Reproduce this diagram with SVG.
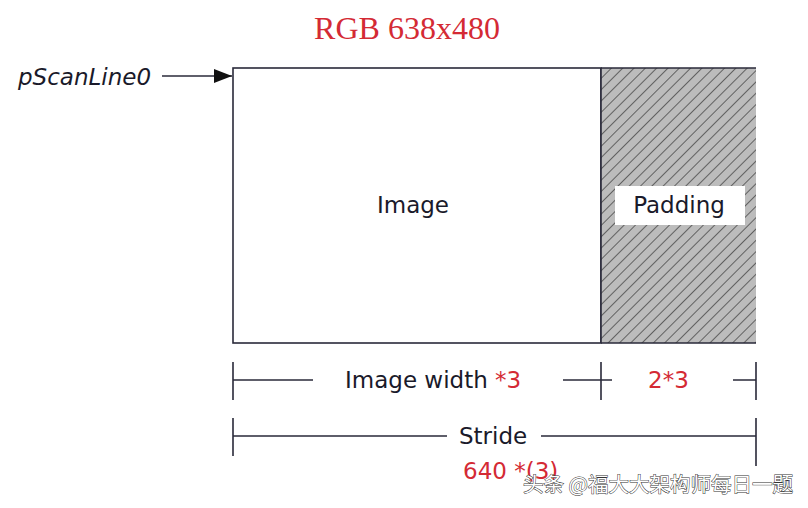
<svg xmlns="http://www.w3.org/2000/svg" width="808" height="508" viewBox="0 0 808 508">
<style>
.t{font-family:"DejaVu Sans",Verdana,sans-serif;font-size:23px;fill:#1a1a2a}
.r{fill:#d42a34}
.ln{stroke:#2a2a3a;stroke-width:1.6;fill:none}
</style>
<defs>
<pattern id="hatch" patternUnits="userSpaceOnUse" width="8" height="8" patternTransform="rotate(45)">
<rect width="8" height="8" fill="#bcbcbc"/>
<line x1="0" y1="0" x2="0" y2="8" stroke="#4a4a4a" stroke-width="1.6"/>
</pattern>
<marker id="ah" markerWidth="18" markerHeight="14" refX="18" refY="7" orient="auto" markerUnits="userSpaceOnUse">
<path d="M0,0 L18,7 L0,14 Z" fill="#111"/>
</marker>
</defs>
<rect width="808" height="508" fill="#fff"/>
<text x="407" y="39" text-anchor="middle" font-family="Liberation Serif,serif" font-size="32" fill="#d42a34">RGB 638x480</text>
<g id="image">
<rect x="233" y="68" width="368" height="275" fill="#fff" class="ln"/>
<text class="t" x="413" y="213" text-anchor="middle">Image</text>
</g>
<g id="padding">
<rect x="601" y="68" width="155" height="275" fill="url(#hatch)"/>
<path class="ln" d="M601,68 H756 M601,343 H756 M601,68 V343"/>
<rect x="615" y="186" width="130" height="39" fill="#fff"/>
<text class="t" x="679" y="213" text-anchor="middle">Padding</text>
</g>
<g id="pscan">
<text x="18" y="85" font-family="DejaVu Sans,Verdana,sans-serif" font-style="italic" font-size="23" fill="#1a1a2a">pScanLine0</text>
</g>
<g id="connectors">
<line class="ln" x1="162" y1="76" x2="232" y2="76" marker-end="url(#ah)"/>
<path class="ln" d="M233,362 V400 M601,362 V400 M756,362 V400 M233,380 H313 M563,380 H612 M733,380 H756"/>
<path class="ln" d="M233,418 V456 M756,418 V466 M233,436 H447 M541,436 H756"/>
</g>
<g id="labels">
<text class="t" x="345" y="388">Image width <tspan class="r">*3</tspan></text>
<text class="t r" x="648" y="388">2*3</text>
<text class="t" x="459" y="444">Stride</text>
<text class="t r" x="463" y="479">640 *(3)</text>
<text x="523" y="492" font-family="Noto Sans CJK SC,sans-serif" font-size="20.5" fill="#fff" stroke="#333" stroke-width="1" paint-order="stroke">头条 @福大大架构师每日一题</text>
</g>
</svg>
